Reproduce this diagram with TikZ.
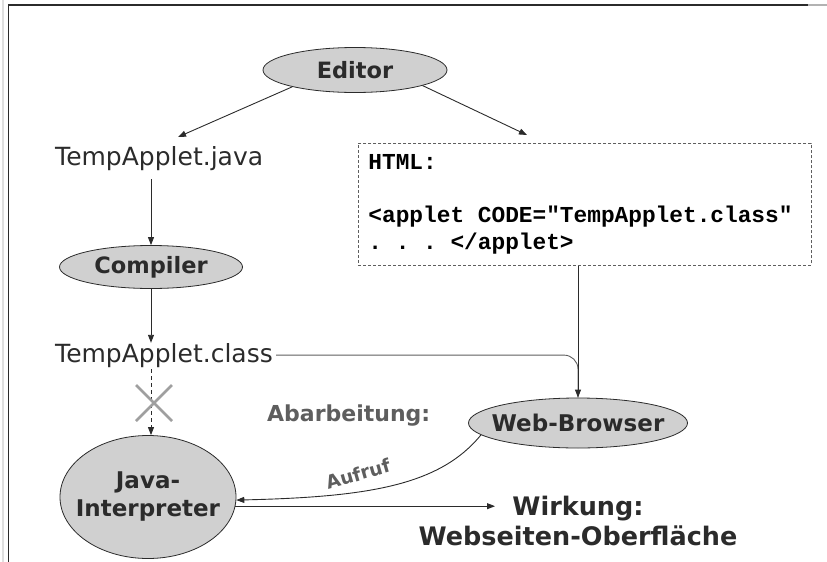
\documentclass[tikz,border=0pt]{standalone}
\usepackage{fontspec}
\setmainfont{DejaVu Sans}
\newfontfamily\codefont{Liberation Mono}
\newcommand\codesp{\hspace*{0.6em}}
\usetikzlibrary{shapes.geometric,arrows.meta}

\definecolor{inkgray}{HTML}{2B2B2B}
\definecolor{bubblefill}{HTML}{D0D0D0}
\definecolor{notegray}{HTML}{5E5E5E}

\tikzset{
	bubble/.style={ellipse, draw=inkgray, fill=bubblefill, line width=0.8pt, inner xsep=-30pt, inner ysep=0pt, text=inkgray, font=\bfseries\fontsize{22.5}{28}\selectfont},
	filename/.style={inner sep=0pt, anchor=base west, text=inkgray, font=\fontsize{25}{30}\selectfont},
	htmlbox/.style={draw=notegray, dash pattern=on 3pt off 2pt, line width=0.9pt, anchor=north west, minimum width=453pt, minimum height=122pt, inner xsep=10pt, text width=433pt, align=left, font=\codefont\bfseries\fontsize{22.8}{26.5}\selectfont},
	flow/.style={draw=inkgray, line width=0.9pt, -{Triangle[length=8pt,width=6pt]}},
}

\begin{document}
\begin{tikzpicture}[x=1pt, y=-1pt]
	\useasboundingbox (0,0) rectangle (827,562);

	% page frame
	\draw[line width=2.5pt, inkgray] (8,5) -- (808,5);
	\draw[line width=1.5pt, gray!60] (808,5) -- (827,5);
	\draw[line width=1pt, inkgray] (8.5,5) -- (8.5,562);
	\draw[line width=1.5pt, gray!25] (3,0) -- (3,562);

	\node[bubble, minimum width=184pt, minimum height=45pt] (editor) at (355,70) {Editor};
	\node[filename] (java) at (55,165) {TempApplet.java};
	\node[bubble, minimum width=183pt, minimum height=43pt] (compiler) at (151,267) {Compiler};
	\node[filename] (class) at (55,362) {TempApplet.class};
	\node[htmlbox] (html) at (358,143) {HTML:\\[26.5pt] <applet\codesp CODE="TempApplet.class"\\ .\codesp.\codesp.\codesp</applet>};
	\node[bubble, minimum width=219pt, minimum height=50pt, font=\bfseries\fontsize{23}{28}\selectfont] (browser) at (578,423) {Web-Browser};
	\node[bubble, minimum width=176pt, minimum height=123pt, align=center, font=\bfseries\fontsize{23}{28}\selectfont] (interp) at (148,497) {Java-\\Interpreter};

	\node[inner sep=0pt, anchor=base west, text=notegray, font=\bfseries\fontsize{22}{26}\selectfont] (work) at (267,421) {Abarbeitung:};
	\node[inner sep=0pt, rotate=16, text=notegray, font=\bfseries\fontsize{18.5}{22}\selectfont] (call) at (358,474) {Aufruf};
	\node[inner sep=0pt, anchor=base, align=center, text=inkgray, font=\bfseries\fontsize{25.5}{30}\selectfont] (effect) at (578,545) {Wirkung:\\Webseiten-Oberfläche};

	\coordinate (javain) at (178,137);
	\coordinate (htmlin) at (527,135);
	\coordinate (effectin) at (495,506);
	\coordinate (blocked) at (154,403);

	\draw[flow] (editor.195) -- (javain);
	\draw[flow] (editor.-13) -- (htmlin);
	\draw[flow] ([yshift=-9pt]java.south -| compiler.north) -- (compiler.north);
	\draw[flow] (compiler.south) -- (compiler.south |- class.north);

	\draw[flow, dash pattern=on 4pt off 3pt] ([yshift=-2pt]compiler.south |- class.south) -- (compiler.south |- interp.north);
	\draw[line width=2.5pt, gray!75] ([shift={(-18,-18)}]blocked) -- ([shift={(18,18)}]blocked);
	\draw[line width=2.5pt, gray!75] ([shift={(-18,18)}]blocked) -- ([shift={(18,-18)}]blocked);

	\draw[draw=notegray, line width=0.9pt, rounded corners=14pt] ([xshift=3pt]class.east) -- (class.east -| browser.north) -- (browser.north);
	\draw[flow] (browser.north |- html.south) -- (browser.north);

	\draw[flow] (browser.187) .. controls (440,485) and (370,497) .. (interp.-2);
	\draw[flow] (interp.-6) -- (interp.-6 -| effectin);
\end{tikzpicture}
\end{document}
